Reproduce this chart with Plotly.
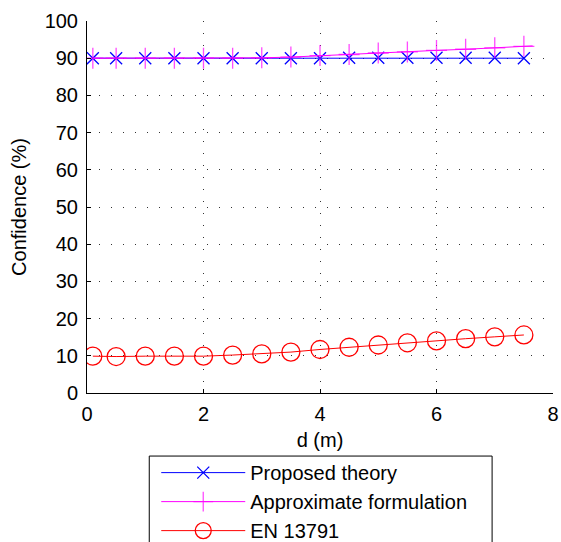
import plotly.graph_objects as go

# distance d (m) at which each curve is sampled
d = [0.1, 0.5, 1.0, 1.5, 2.0, 2.5, 3.0, 3.5, 4.0, 4.5, 5.0, 5.5, 6.0, 6.5, 7.0, 7.5]

# confidence (%) for each method
proposed = [90.0, 90.0, 90.0, 90.0, 90.0, 90.0, 90.0, 90.0, 90.0, 90.1, 90.1, 90.1, 90.1, 90.1, 90.1, 90.0]
approx_d = d + [7.65]
approx = [90.0, 90.0, 90.0, 90.0, 90.0, 90.0, 90.1, 90.3, 90.7, 91.0, 91.4, 91.7, 92.1, 92.4, 92.8, 93.2, 93.3]
en13791 = [9.9, 9.8, 9.9, 9.9, 9.9, 10.2, 10.5, 11.0, 11.7, 12.3, 12.9, 13.5, 14.0, 14.6, 15.1, 15.6]

x_ticks = [0, 2, 4, 6, 8]
y_ticks = [0, 10, 20, 30, 40, 50, 60, 70, 80, 90, 100]

FONT = "Liberation Sans, Arial, sans-serif"
FS = 20

fig = go.Figure()
fig.add_trace(go.Scatter(
    x=d, y=proposed, mode="lines+markers", name="Proposed theory",
    line=dict(color="#0000ff", width=1),
    marker=dict(symbol="x-thin", size=12, color="#0000ff",
                line=dict(color="#0000ff", width=1.3)),
))
fig.add_trace(go.Scatter(
    x=approx_d, y=approx, mode="lines+markers", name="Approximate formulation",
    line=dict(color="#ff00ff", width=1),
    marker=dict(symbol="cross-thin", size=[15] * len(d) + [0], color="#ff00ff",
                line=dict(color="#ff00ff", width=1.3)),
))
fig.add_trace(go.Scatter(
    x=d, y=en13791, mode="lines+markers", name="EN 13791",
    line=dict(color="#ff0000", width=1),
    marker=dict(symbol="circle-open", size=18, color="#ff0000",
                line=dict(color="#ff0000", width=1.3)),
))

axis_common = dict(
    showline=True, linecolor="black", linewidth=1, mirror=False,
    ticks="inside", ticklen=4, tickcolor="black", tickwidth=1,
    showgrid=True, gridcolor="#333333", gridwidth=1, griddash="1px,11px",
    zeroline=False, tickfont=dict(family=FONT, size=FS, color="black"),
)

fig.update_xaxes(range=[0, 8], tickvals=x_ticks,
                 title=dict(text="d (m)", font=dict(family=FONT, size=FS, color="black"), standoff=8),
                 ticklabelstandoff=3, **axis_common)
fig.update_yaxes(range=[0, 100], tickvals=y_ticks,
                 title=dict(text="Confidence (%)", font=dict(family=FONT, size=FS, color="black"), standoff=12),
                 ticklabelstandoff=4, **axis_common)

# frame around the legend (the legend itself is drawn borderless inside it)
fig.add_shape(type="rect", xref="paper", yref="paper",
              x0=0.1336, x1=0.8693, y0=-0.1695, y1=-0.45,
              line=dict(color="black", width=1), fillcolor="rgba(0,0,0,0)", layer="above")

fig.update_layout(
    width=561, height=542,
    margin=dict(l=87, r=8, t=21, b=149, autoexpand=False),
    paper_bgcolor="white", plot_bgcolor="white",
    font=dict(family=FONT, size=FS, color="black"),
    showlegend=True,
    legend=dict(
        x=0.1486, y=-0.1616, xanchor="left", yanchor="top",
        bgcolor="rgba(0,0,0,0)", borderwidth=0,
        font=dict(family=FONT, size=FS, color="black"),
        itemwidth=84, tracegroupgap=0,
    ),
)

fig.write_html("out.html")
